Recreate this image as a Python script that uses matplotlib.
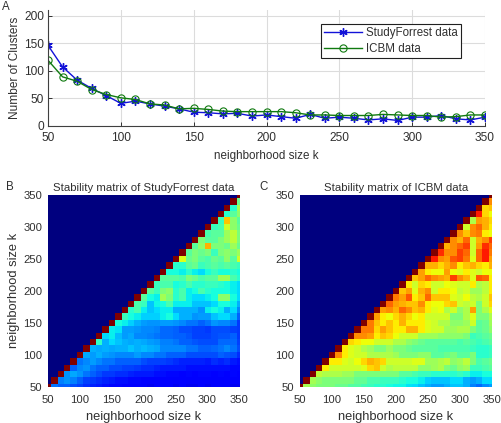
import numpy as np
import matplotlib
matplotlib.use('Agg')
import matplotlib.pyplot as plt

plt.rcParams['font.family'] = ['Liberation Sans', 'DejaVu Sans']

W, H = 502, 423
TXT = '#303030'

k = list(range(50, 351, 10))
study_clusters = [146, 107, 83, 68, 55, 41, 45, 40, 36, 31, 25, 24, 22, 23, 18, 20,
                  17, 14, 21, 14, 16, 14, 11, 13, 10, 16, 16, 19, 13, 11, 16]
icbm_clusters = [119, 89, 81, 66, 57, 51, 48, 40, 38, 31, 32, 30, 27, 26, 26, 26,
                 26, 24, 20, 20, 19, 19, 19, 21, 20, 19, 19, 16, 17, 20, 20]

# stability values in percent, one row per k, cells right of the diagonal only
study_rows = [
    [24,22,22,20,19,17,16,15,14,13,13,12,12,11,11,10,11,11,11,10,11,10,10,11,10,11,11,11,10,10],
    [25,27,25,22,19,18,17,16,15,14,14,13,13,12,12,12,12,12,11,12,11,11,11,11,11,11,12,11,11],
    [27,29,27,24,22,20,18,18,17,17,16,15,15,15,14,14,13,13,12,13,12,13,13,12,13,12,13,12],
    [22,26,27,24,22,22,20,20,19,19,18,17,17,16,15,15,15,15,14,14,14,14,14,14,14,13,13],
    [24,26,28,26,24,24,22,22,22,22,20,19,19,19,18,17,16,16,16,16,15,17,16,17,15,14],
    [29,28,30,28,27,26,26,26,28,26,26,24,24,22,22,22,20,20,20,20,20,22,21,20,17],
    [30,29,30,29,30,30,32,30,31,30,29,26,26,26,26,24,24,22,22,23,24,26,24,20],
    [41,30,34,32,30,29,30,29,28,27,25,25,24,22,22,21,20,20,20,23,23,23,19],
    [34,36,31,28,29,26,26,25,24,23,23,22,22,21,19,19,19,20,21,21,22,18],
    [36,35,28,28,27,26,26,25,23,23,22,20,20,19,19,18,20,20,20,19,18],
    [38,36,33,30,28,27,27,28,28,27,26,24,24,22,24,27,26,26,24,18],
    [42,38,36,33,33,33,36,38,34,30,30,27,28,28,32,34,34,30,22],
    [40,44,36,32,34,36,36,30,30,30,30,27,36,38,36,30,34,26],
    [44,42,32,37,38,44,36,36,36,32,32,32,34,38,38,36,30],
    [46,38,36,55,50,40,44,36,34,34,36,38,52,52,38,34],
    [46,42,50,52,40,44,36,38,44,40,38,38,38,36,34],
    [42,44,44,38,40,44,40,40,42,42,40,38,36,34],
    [46,46,46,44,50,48,44,46,46,54,54,44,40],
    [38,38,36,40,36,34,38,42,38,38,40,38],
    [40,40,46,48,42,44,46,44,46,44,42],
    [62,48,50,46,44,48,46,52,46,60],
    [46,50,48,50,42,50,52,50,54],
    [46,52,72,50,50,48,54,48],
    [50,46,46,50,54,58,50],
    [44,46,46,54,58,50],
    [42,44,60,52,48],
    [42,70,52,46],
    [40,46,52],
    [40,55],
    [48],
]
icbm_rows = [
    [55,52,50,50,50,48,48,45,45,43,42,40,40,38,37,37,35,34,32,30,28,28,30,32,32,30,25,23,26,28],
    [55,52,50,50,50,50,50,47,47,44,44,42,42,42,40,38,38,36,33,32,32,32,34,34,30,28,30,34,34],
    [58,56,56,56,54,54,50,50,50,50,50,50,50,46,46,44,42,42,40,40,40,40,42,40,36,36,38,38],
    [66,60,60,60,60,60,62,68,70,60,56,58,58,58,58,52,52,54,56,50,48,52,54,42,42,44,46],
    [66,66,62,60,64,68,72,70,68,60,60,60,60,62,62,54,54,56,58,52,54,58,50,44,46,48],
    [76,66,62,60,60,56,56,56,56,54,50,50,50,52,52,46,46,48,50,46,46,50,40,40,42],
    [66,62,60,56,54,50,50,54,50,50,48,46,46,46,46,44,44,44,44,44,42,40,40,42],
    [68,66,64,64,60,60,60,56,56,52,50,48,46,46,46,46,46,44,46,44,42,44,46],
    [76,76,74,66,70,68,64,60,60,60,54,54,54,52,52,52,52,50,42,44,46,48],
    [78,78,68,74,70,66,66,72,72,66,62,60,60,54,54,56,56,50,46,48,52],
    [78,70,66,70,66,72,66,66,66,62,60,56,56,52,52,54,60,46,48,54],
    [74,66,64,68,72,68,64,66,60,60,60,60,50,50,56,62,50,50,56],
    [74,76,72,80,76,70,72,66,62,64,56,60,52,56,74,50,56,62],
    [80,74,72,70,70,76,66,64,64,68,70,60,58,60,50,60,68],
    [78,74,82,66,70,80,70,70,70,62,60,64,58,56,60,70],
    [70,74,62,72,76,60,66,66,64,58,60,54,54,58,66],
    [66,60,68,66,60,60,64,62,60,60,66,56,58,66],
    [70,74,80,76,74,72,84,76,72,62,82,80,66],
    [74,66,64,64,74,64,62,66,62,60,64,64],
    [72,72,68,72,76,66,70,72,68,66,72],
    [88,76,74,82,84,78,62,80,88,74],
    [86,76,76,84,80,60,80,88,78],
    [72,76,80,84,60,74,86,80],
    [76,72,80,60,72,76,84],
    [76,70,76,78,66,64],
    [60,76,80,72,66],
    [56,74,72,68],
    [88,68,64],
    [68,70],
    [76],
]


def ax_px(x0, y0, x1, y1):
    # pixel box measured from top left of the picture
    return fig.add_axes([x0 / W, 1 - y1 / H, (x1 - x0) / W, (y1 - y0) / H])


def to_matrix(rows):
    n = len(k)
    z = np.zeros((n, n))
    for i in range(n):
        z[i, i] = 100
    for i, row in enumerate(rows):
        z[i, i + 1:i + 1 + len(row)] = row
    return z


def heat(ax, rows, title):
    ax.imshow(to_matrix(rows), origin='lower', extent=[45, 355, 45, 355], cmap='jet',
              vmin=0, vmax=100, interpolation='nearest', aspect='auto')
    ax.set_xlim(50, 350)
    ax.set_ylim(50, 350)
    ax.set_xticks(range(50, 351, 50))
    ax.set_yticks(range(50, 351, 50))
    ax.tick_params(labelsize=8.1, colors=TXT, length=0)
    ax.tick_params(axis='x', pad=6)
    ax.tick_params(axis='y', pad=4)
    for s in ax.spines.values():
        s.set_visible(False)
    ax.set_xlabel('neighborhood size k', fontsize=9.3, color=TXT, labelpad=4)
    ax.set_title(title, fontsize=8.2, color=TXT, pad=3)


fig = plt.figure(figsize=(W / 100, H / 100), dpi=100)

a = ax_px(48, 10, 485, 126)
a.plot(k, study_clusters, '-', marker=(6, 2, 0), color='#1212d8', lw=1, ms=6, mew=1, label='StudyForrest data')
a.plot(k, icbm_clusters, '-o', color='#107a10', lw=1, ms=5.2, mfc='none', mew=0.8, label='ICBM data')
a.set_xlim(50, 350)
a.set_ylim(0, 210)
a.set_xticks(range(50, 351, 50))
a.set_yticks(range(0, 201, 50))
a.grid(color='#dcdcdc', lw=0.8)
a.set_axisbelow(True)
a.tick_params(direction='in', length=3, width=0.7, labelsize=8.6, colors=TXT, pad=3)
a.tick_params(axis='x', pad=4)
a.spines['top'].set_visible(False)
a.spines['right'].set_visible(False)
a.spines['left'].set_color('#404040')
a.spines['bottom'].set_color('#404040')
a.set_xlabel('neighborhood size k', fontsize=8.4, color=TXT, labelpad=5)
a.set_ylabel('Number of Clusters', fontsize=8.6, color=TXT, labelpad=2)
leg = a.legend(loc='upper left', bbox_to_anchor=(273 / 437, 1 - 14 / 116), fontsize=8.3, fancybox=False,
               framealpha=1, edgecolor='#202020', borderaxespad=0, borderpad=0.3,
               labelspacing=0.3, handlelength=3.3, handletextpad=0.3)
leg.get_frame().set_linewidth(0.8)
for t in leg.get_texts():
    t.set_color(TXT)

b = ax_px(47.7, 195, 239.5, 386.7)
heat(b, study_rows, 'Stability matrix of StudyForrest data')
b.set_ylabel('neighborhood size k', fontsize=9.3, color=TXT, labelpad=2)

c = ax_px(300, 195, 491.7, 386.7)
heat(c, icbm_rows, 'Stability matrix of ICBM data')

fig.text(2 / W, 1 - 10 / H, 'A', fontsize=8.3, color=TXT)
fig.text(6 / W, 1 - 190 / H, 'B', fontsize=8.3, color=TXT)
fig.text(259 / W, 1 - 190 / H, 'C', fontsize=8.3, color=TXT)

fig.savefig('out.png', dpi=100)
